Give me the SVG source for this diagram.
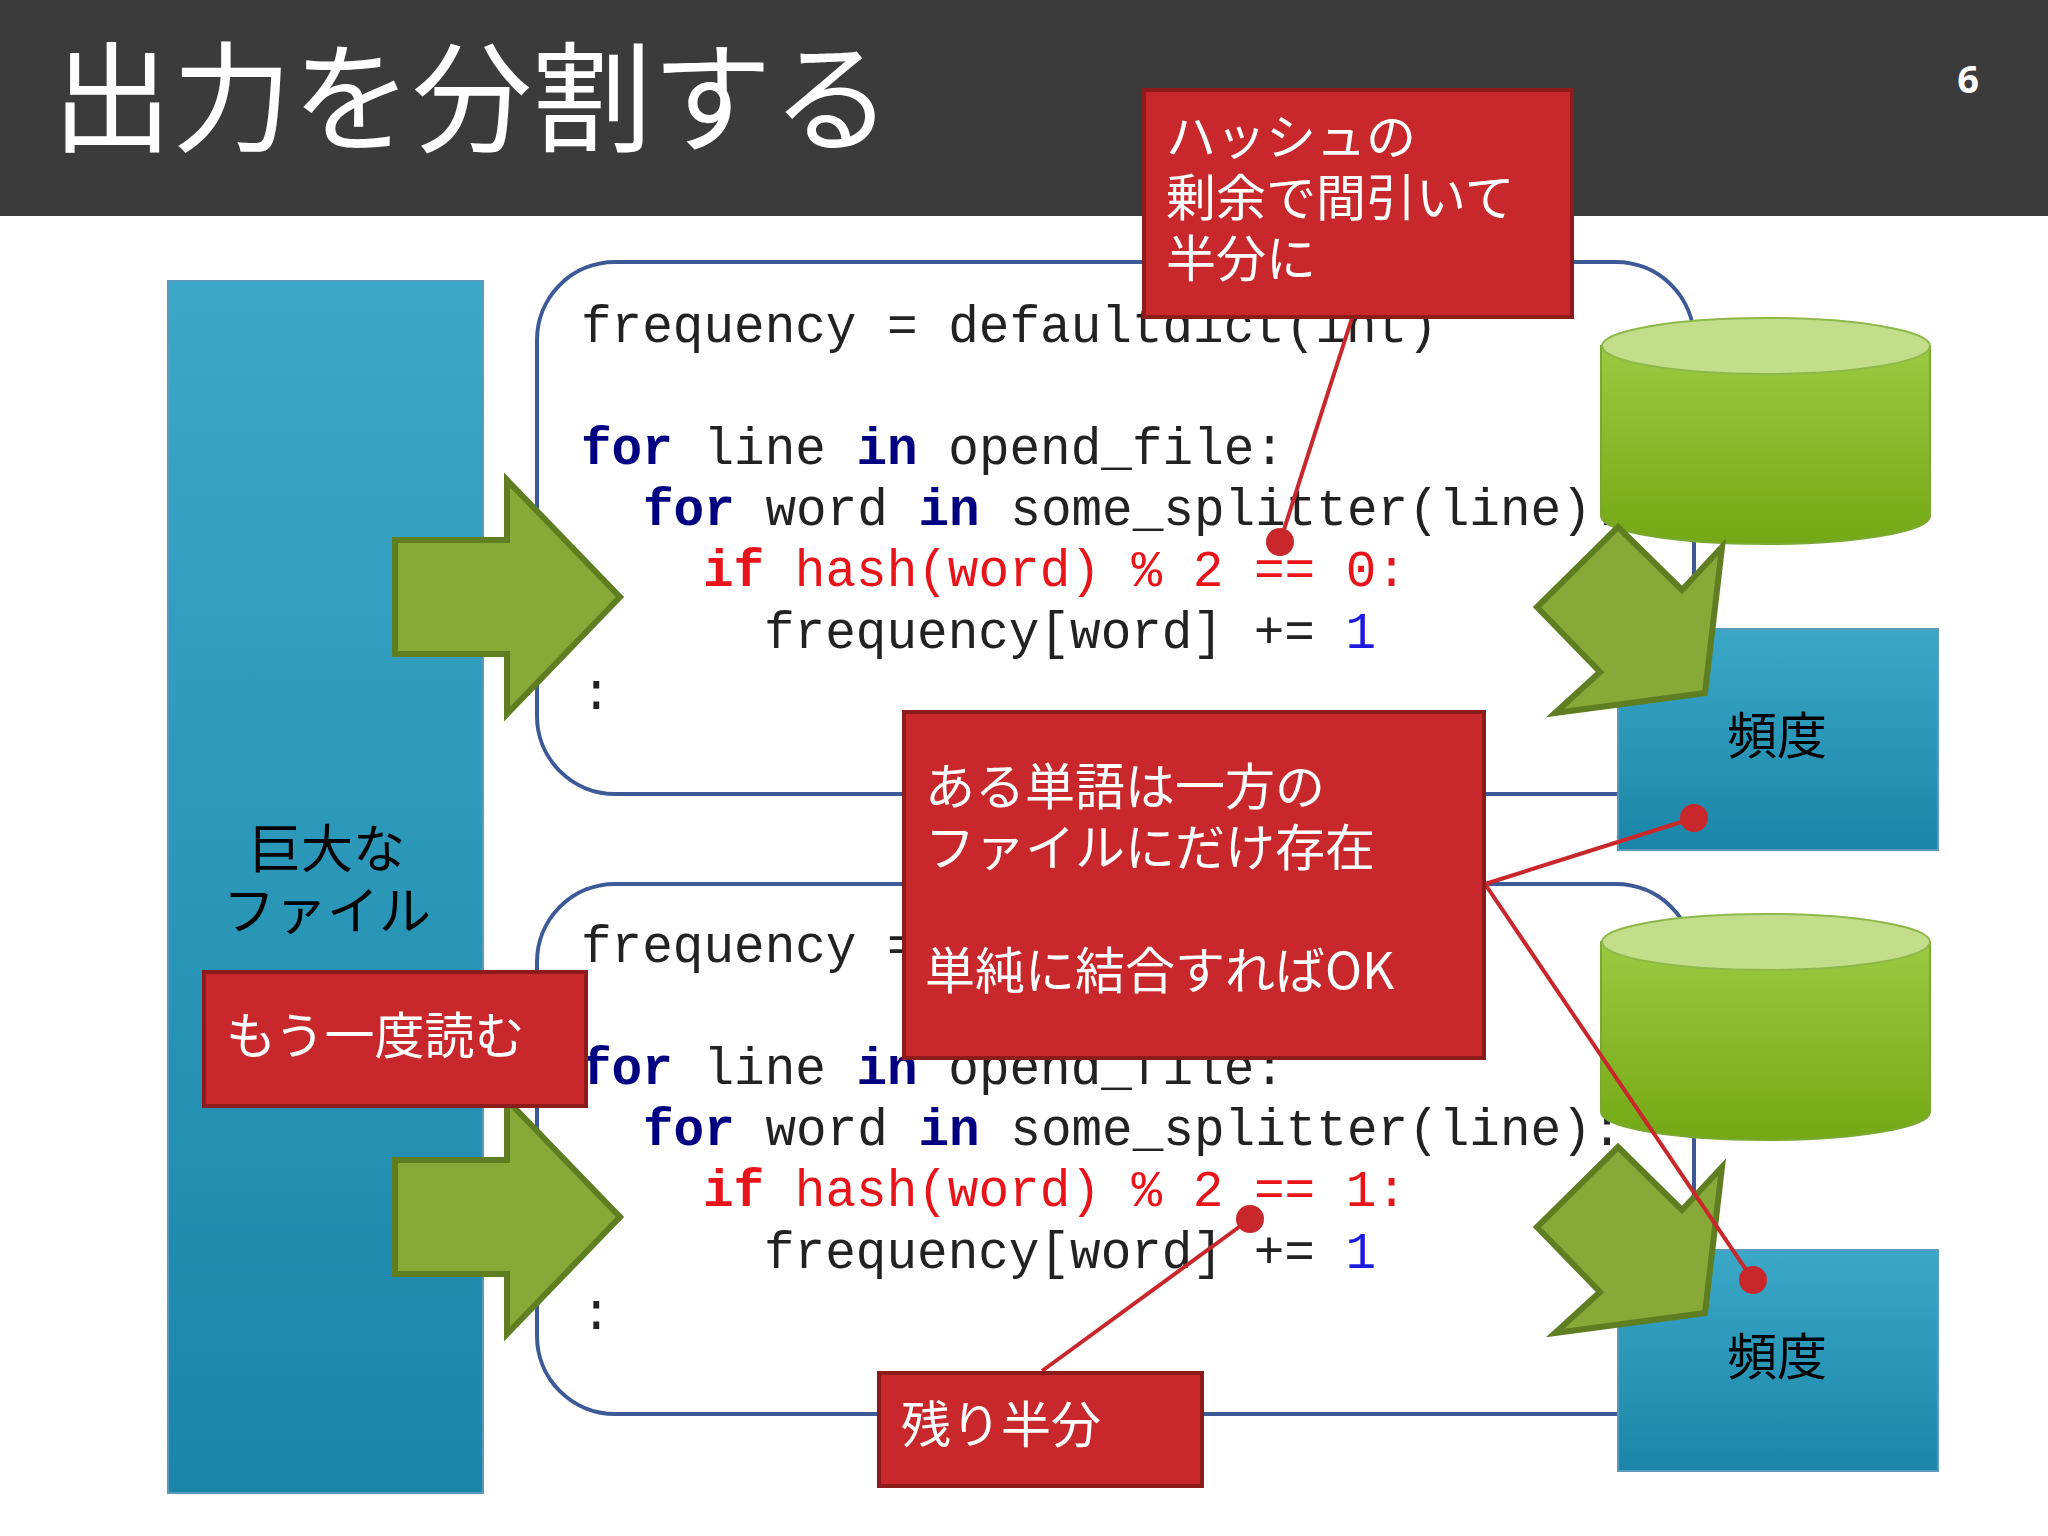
<svg xmlns="http://www.w3.org/2000/svg" width="2048" height="1536" viewBox="0 0 2048 1536">
<defs>
<linearGradient id="blue" x1="0" y1="0" x2="0" y2="1"><stop offset="0" stop-color="#3ba8c8"/><stop offset="1" stop-color="#1a85a8"/></linearGradient>
<linearGradient id="green" x1="0" y1="0" x2="0" y2="1"><stop offset="0" stop-color="#9cc940"/><stop offset="1" stop-color="#74a816"/></linearGradient>
<style>
.code{font-family:"Liberation Mono","DejaVu Sans Mono",monospace;font-size:51px;fill:#222;white-space:pre}
.kw{fill:#000080;font-weight:bold}
.r{fill:#e8141a}
.rk{fill:#e8141a;font-weight:bold}
.n{fill:#1a1ae0}
.jp{font-family:"Noto Sans CJK JP","Noto Sans",sans-serif}
.call{fill:#c8282b;stroke:#8c1c1c;stroke-width:4}
.ct{font-family:"Noto Sans CJK JP","Noto Sans",sans-serif;font-size:50px;fill:#fff}
.box{fill:#fff;stroke:#3e5a96;stroke-width:4}
.arr{fill:#87a937;stroke:#5f7e22;stroke-width:6;stroke-linejoin:miter}
.ln{stroke:#c8282b;stroke-width:4;fill:none}
.dot{fill:#c8282b}
</style>
</defs>
<rect x="0" y="0" width="2048" height="216" fill="#3b3b3b"/>
<text x="52" y="143" class="jp" font-size="120" fill="#fff">出力を分割する</text>
<text x="1968" y="93" font-family="Noto Sans,sans-serif" font-size="38" font-weight="bold" fill="#fff" text-anchor="middle">6</text>

<g id="bigfile"><rect x="168" y="281" width="315" height="1212" fill="url(#blue)" stroke="#5a9abf" stroke-width="2"/>
<text x="327" y="868" class="jp" font-size="52" text-anchor="middle">巨大な</text>
<text x="327" y="930" class="jp" font-size="52" text-anchor="middle">ファイル</text></g>

<g id="code1"><rect x="537" y="262" width="1157" height="532" rx="78" class="box"/>
<text class="code" y="342"><tspan x="581">frequency = defaultdict(int)</tspan></text>
<text class="code" y="464"><tspan x="581" class="kw">for</tspan> line <tspan class="kw">in</tspan> opend_file:</text>
<text class="code" y="525"><tspan x="643" class="kw">for</tspan> word <tspan class="kw">in</tspan> some_splitter(line):</text>
<text class="code" y="586"><tspan x="703" class="rk">if</tspan><tspan class="r"> hash(word) % 2 == 0:</tspan></text>
<text class="code" y="648"><tspan x="764">frequency[word] += </tspan><tspan class="n">1</tspan></text>
<text class="code" y="709"><tspan x="581">:</tspan></text></g>

<g id="code2"><rect x="537" y="884" width="1157" height="530" rx="78" class="box"/>
<text class="code" y="962"><tspan x="581">frequency = defaultdict(int)</tspan></text>
<text class="code" y="1084"><tspan x="581" class="kw">for</tspan> line <tspan class="kw">in</tspan> opend_file:</text>
<text class="code" y="1145"><tspan x="643" class="kw">for</tspan> word <tspan class="kw">in</tspan> some_splitter(line):</text>
<text class="code" y="1206"><tspan x="703" class="rk">if</tspan><tspan class="r"> hash(word) % 2 == 1:</tspan></text>
<text class="code" y="1268"><tspan x="764">frequency[word] += </tspan><tspan class="n">1</tspan></text>
<text class="code" y="1329"><tspan x="581">:</tspan></text></g>

<g id="arrowL1"><polygon class="arr" points="395,540 507,540 507,480 620,597 507,714 507,654 395,654"/></g>
<g id="arrowL2"><polygon class="arr" points="395,1160 507,1160 507,1100 620,1217 507,1334 507,1274 395,1274"/></g>

<g id="cyl1"><path d="M1601,346 V516 A164,28 0 0 0 1930,516 V346 Z" fill="url(#green)" stroke="#7aa832" stroke-width="2"/>
<ellipse cx="1766" cy="346" rx="164" ry="28" fill="#c2de8a" stroke="#8fb84a" stroke-width="2"/></g>
<g id="cyl2"><path d="M1601,942 V1112 A164,28 0 0 0 1930,1112 V942 Z" fill="url(#green)" stroke="#7aa832" stroke-width="2"/>
<ellipse cx="1766" cy="942" rx="164" ry="28" fill="#c2de8a" stroke="#8fb84a" stroke-width="2"/></g>

<g id="freq1"><rect x="1618" y="629" width="320" height="221" fill="url(#blue)" stroke="#5a9abf" stroke-width="2"/>
<text x="1777" y="754" class="jp" font-size="50" text-anchor="middle">頻度</text></g>
<g id="freq2"><rect x="1618" y="1250" width="320" height="221" fill="url(#blue)" stroke="#5a9abf" stroke-width="2"/>
<text x="1777" y="1375" class="jp" font-size="50" text-anchor="middle">頻度</text></g>

<g id="arrowD1"><polygon class="arr" points="1618,527 1682,590 1722,547 1705,693 1555,713 1600,672 1537,607"/></g>
<g id="arrowD2"><polygon class="arr" points="1618,1147 1682,1210 1722,1167 1705,1313 1555,1333 1600,1292 1537,1227"/></g>

<g id="connectors">
<line class="ln" x1="1352" y1="318" x2="1280" y2="542"/><circle class="dot" cx="1280" cy="542" r="14"/>
<line class="ln" x1="1485" y1="884" x2="1694" y2="818"/><circle class="dot" cx="1694" cy="818" r="14"/>
<line class="ln" x1="1485" y1="884" x2="1753" y2="1280"/><circle class="dot" cx="1753" cy="1280" r="14"/>
<line class="ln" x1="1042" y1="1371" x2="1250" y2="1219"/><circle class="dot" cx="1250" cy="1219" r="14"/>
</g>

<g id="call1"><rect class="call" x="1144" y="90" width="428" height="227"/>
<text class="ct" x="1166" y="155">ハッシュの</text><text class="ct" x="1166" y="216">剰余で間引いて</text><text class="ct" x="1166" y="277">半分に</text></g>
<g id="call2"><rect class="call" x="904" y="712" width="580" height="346"/>
<text class="ct" x="925" y="805">ある単語は一方の</text><text class="ct" x="925" y="866">ファイルにだけ存在</text><text class="ct" x="925" y="989">単純に結合すればOK</text></g>
<g id="call3"><rect class="call" x="204" y="972" width="382" height="134"/>
<text class="ct" x="226" y="1054">もう一度読む</text></g>
<g id="call4"><rect class="call" x="879" y="1373" width="323" height="113"/>
<text class="ct" x="901" y="1443">残り半分</text></g>
</svg>
